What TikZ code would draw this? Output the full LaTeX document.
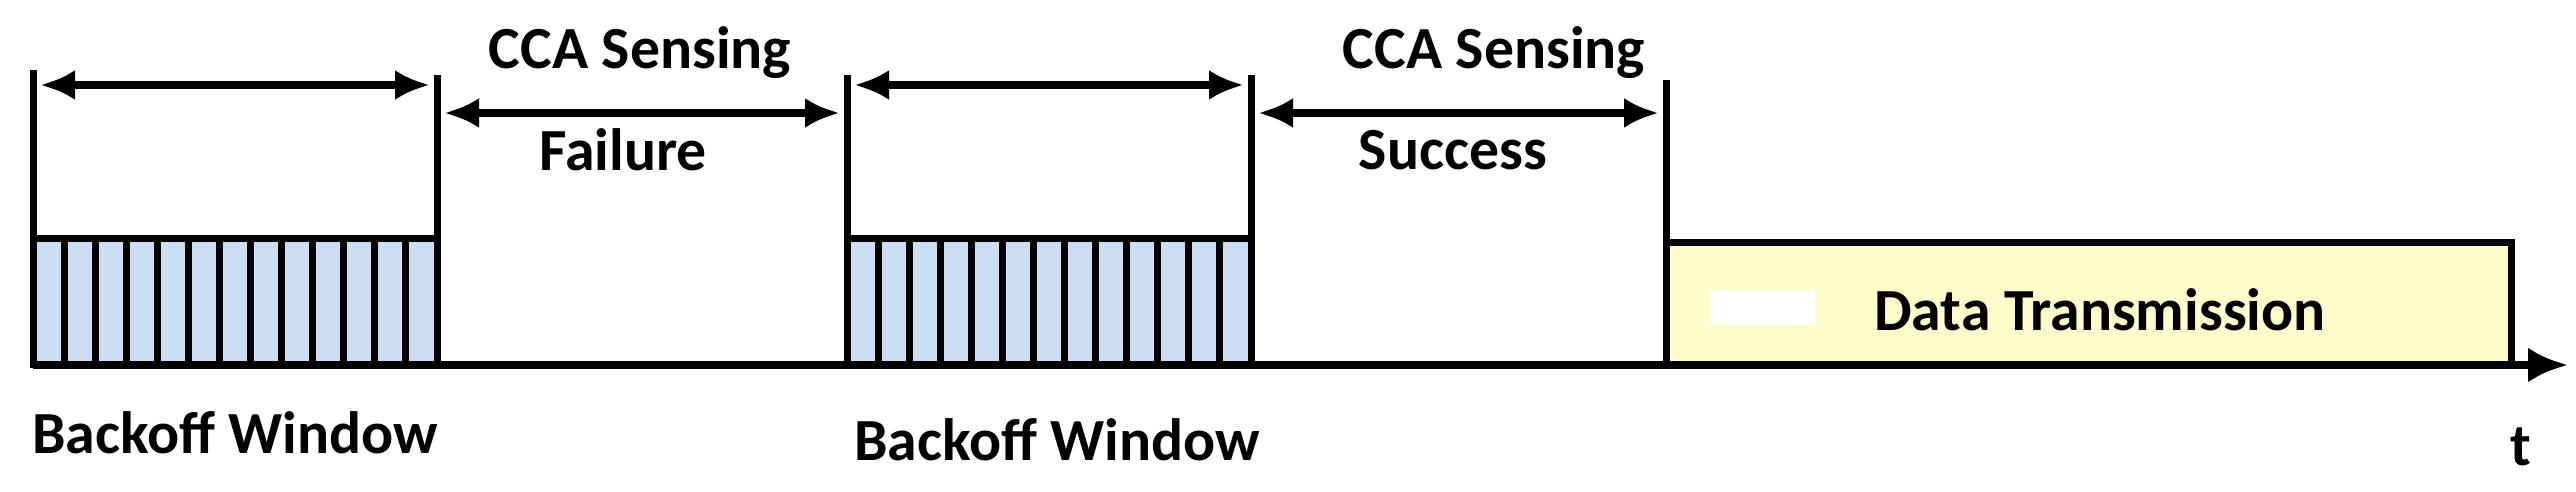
\documentclass[tikz,border=0pt]{standalone}
\usepackage{fontspec}
\setmainfont{Carlito}
\usetikzlibrary{arrows.meta}
\definecolor{slotBlue}{RGB}{204,222,244}
\definecolor{dataYellow}{RGB}{253,253,204}
\tikzstyle{tsLabel} = [
    text=black,
    font=\bfseries\fontsize{17pt}{19pt}\selectfont
]
\tikzstyle{tsBar} = [
    draw=black,
    line width=0.7mm]
\tikzstyle{tsSpan} = [
    {Latex[length=3.5mm,width=3mm]}-{Latex[length=3.5mm,width=3mm]},
    line width=0.8mm]

\begin{document}
\begin{tikzpicture}[x=1cm,y=1cm]
        \useasboundingbox (0,0) rectangle (25.76,4.92);

        % backoff slots
        \foreach \xs in {0.33, 8.47} {
            \draw[tsBar, fill=slotBlue] (\xs,1.27) rectangle ({\xs+4.04},2.53);
            \foreach \i in {1,...,12}
                \draw[tsBar] ({\xs+\i*4.04/13},1.27) -- ({\xs+\i*4.04/13},2.53);
        }

        % data box
        \draw[tsBar, fill=dataYellow] (16.66,1.27) rectangle (25.11,2.49);
        \fill[white] (17.11,1.67) rectangle (18.15,2.02);

        % vertical markers
        \draw[tsBar] (0.33,1.27) -- (0.33,4.22);
        \draw[tsBar] (4.37,1.27) -- (4.37,4.17);
        \draw[tsBar] (8.47,1.27) -- (8.47,4.17);
        \draw[tsBar] (12.51,1.27) -- (12.51,4.17);
        \draw[tsBar] (16.66,1.27) -- (16.66,4.12);

        % time axis
        \coordinate (t0) at (0.33,1.27);
        \coordinate (t1) at (25.68,1.27);
        \draw[line width=0.8mm, -{Latex[length=4mm,width=3.5mm]}] (t0) -- (t1);

        % spans
        \coordinate (b1l) at (0.40,4.07);
        \coordinate (b1r) at (4.30,4.07);
        \coordinate (c1l) at (4.44,3.79);
        \coordinate (c1r) at (8.40,3.79);
        \coordinate (b2l) at (8.54,4.07);
        \coordinate (b2r) at (12.44,4.07);
        \coordinate (c2l) at (12.58,3.79);
        \coordinate (c2r) at (16.59,3.79);
        \draw[tsSpan] (b1l) -- (b1r);
        \draw[tsSpan] (c1l) -- (c1r);
        \draw[tsSpan] (b2l) -- (b2r);
        \draw[tsSpan] (c2l) -- (c2r);

        % labels
        \node[tsLabel] (cca1) at (6.40,4.39) {CCA Sensing};
        \node[tsLabel] (fail) at (6.23,3.42) {Failure};
        \node[tsLabel] (cca2) at (14.94,4.39) {CCA Sensing};
        \node[tsLabel] (succ) at (14.53,3.42) {Success};
        \node[tsLabel] (bw1) at (2.35,0.59) {Backoff Window};
        \node[tsLabel] (bw2) at (10.57,0.52) {Backoff Window};
        \node[tsLabel] (data) at (21.00,1.82) {Data Transmission};
        \node[tsLabel] (tlab) at (25.21,0.45) {t};
\end{tikzpicture}
\end{document}
